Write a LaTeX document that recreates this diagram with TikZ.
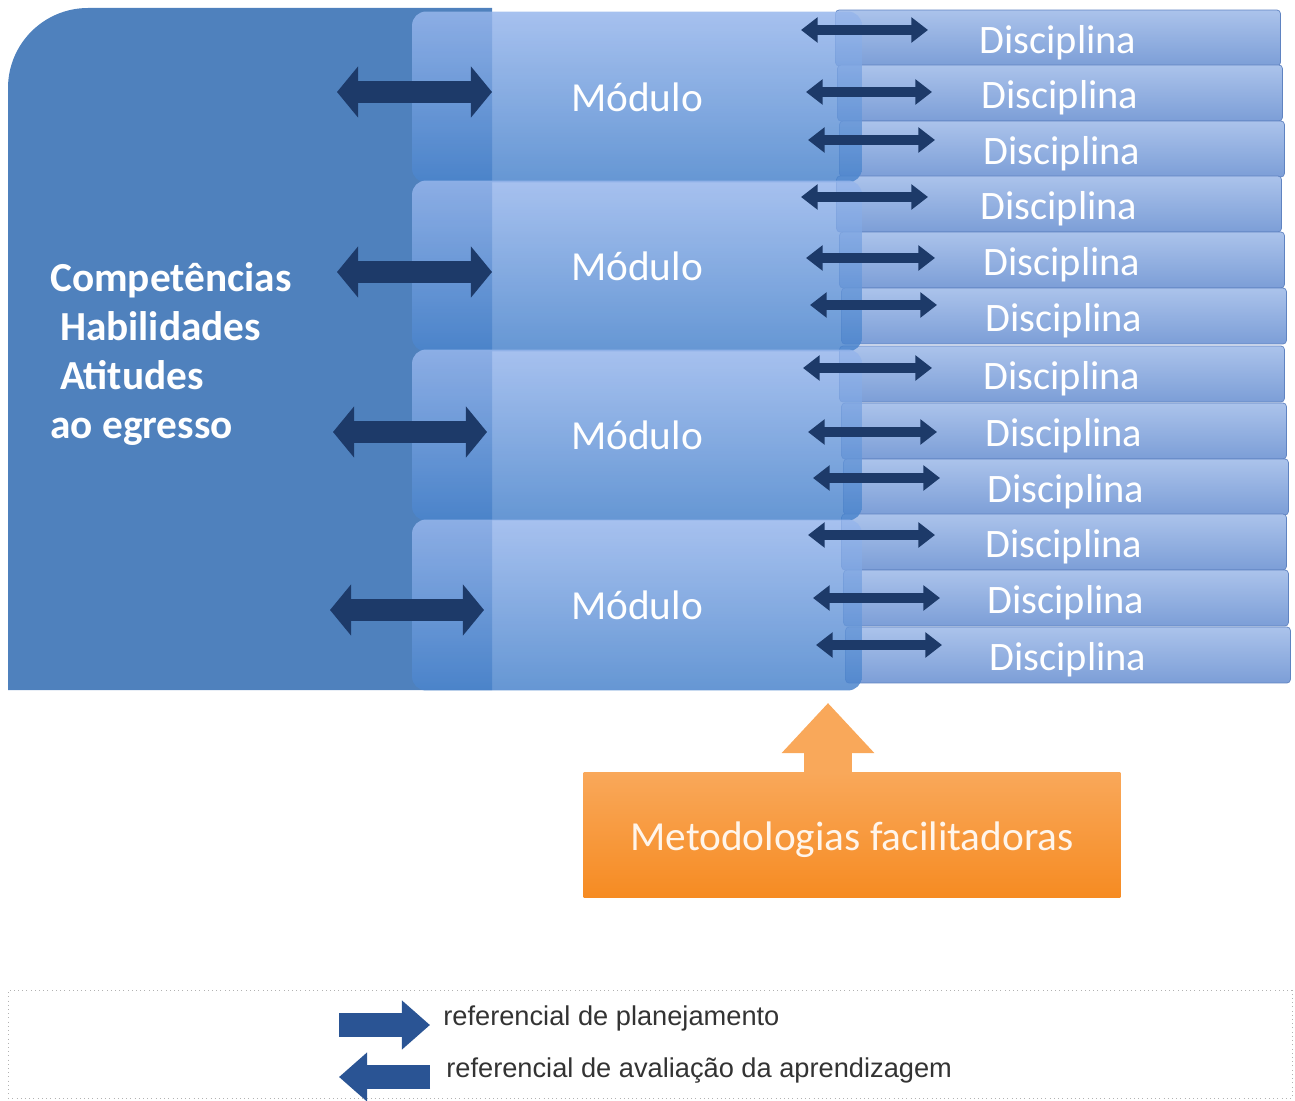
\documentclass[tikz,border=0pt]{standalone}
\usepackage{fontspec}
\setmainfont{Carlito}
\newfontfamily\legfont{Liberation Sans}
\usetikzlibrary{arrows.meta}
\definecolor{fundo}{HTML}{4F81BD}
\definecolor{modtop}{HTML}{97B6EC}
\definecolor{modbot}{HTML}{4A84CC}
\definecolor{disctop}{HTML}{ABC3EB}
\definecolor{discbot}{HTML}{7C9ED7}
\definecolor{discborda}{HTML}{5F83C1}
\definecolor{seta}{HTML}{1D3A69}
\definecolor{laranja}{HTML}{F9A85A}
\definecolor{laranjaesc}{HTML}{F68B22}
\definecolor{azulleg}{HTML}{2A5494}

\begin{document}
\begin{tikzpicture}[x=0.02cm,y=-0.02cm,
  modulo/.style={top color=modtop,bottom color=modbot,fill opacity=0.85,text opacity=1,
    rounded corners=8pt,minimum width=9cm,minimum height=3.42cm,
    text=white,font=\fontsize{23.5}{28}\selectfont},
  disciplina/.style={draw=discborda,top color=disctop,bottom color=discbot,rounded corners=2pt,
    minimum width=8.9cm,minimum height=1.12cm,text=white,font=\fontsize{23}{27}\selectfont,
    text height=18.5pt,text depth=1pt},
  setagrande/.style={seta,line width=12.5pt,
    {Triangle[width=28.5pt,length=12pt]}-{Triangle[width=28.5pt,length=12pt]}},
  setapequena/.style={seta,line width=5.7pt,
    {Triangle[width=14pt,length=9.5pt]}-{Triangle[width=14pt,length=9.5pt]}},
  setalegenda/.style={azulleg,line width=14.2pt,-{Triangle[width=27pt,length=16pt]}}]
  \useasboundingbox (0,0) rectangle (1295,1101);
  % Bloco de competencias
  \fill[fundo] (8,690) -- (8,88) arc(180:270:80) -- (492,8) -- (492,690) -- cycle;
  \node[white,font=\fontsize{23.5}{28}\bfseries\selectfont,align=left,anchor=north west,
    inner sep=0pt] (comp) at (50,262)
    {Competências\\\hspace*{5.5pt}Habilidades\\\hspace*{5.5pt}Atitudes\\ao egresso};
  % Disciplinas
  \foreach \n/\y/\dx in {1/38/0,2/93/2,3/149/4,4/204/1,5/260/4,6/316/6,
                         7/374/4,8/431/6,9/487/8,10/542/6,11/598/8,12/655/10}
    \node[disciplina] (d\n) at (1058+\dx,\y) {Disciplina};
  % Modulos
  \foreach \n/\y in {1/97,2/266,3/435,4/605}
    \node[modulo] (mod\n) at (637,\y) {Módulo};
  % Setas competencias - modulos
  \foreach \n/\xa/\xb/\y in {1/337/492/92,2/337/492/272,3/333/487/432,4/330/484/610}{
    \coordinate (ca\n) at (\xa,\y);
    \coordinate (cb\n) at (\xb,\y);
    \draw[setagrande] (ca\n) -- (cb\n);
  }
  % Setas modulos - disciplinas
  \foreach \n/\xa/\xb/\y in {1/801/928/30,2/806/932/92,3/808/935/140,4/801/928/197,
                             5/806/935/258,6/810/937/305,7/803/932/368,8/808/937/432,
                             9/813/940/478,10/808/935/535,11/813/940/598,12/816/942/645}{
    \coordinate (ma\n) at (\xa,\y);
    \coordinate (mb\n) at (\xb,\y);
    \draw[setapequena] (ma\n) -- (mb\n);
  }
  % Metodologias
  \node[top color=laranja,bottom color=laranjaesc,minimum width=10.74cm,minimum height=2.52cm,
    text=white!92!orange,font=\fontsize{23.5}{28}\selectfont,
    text height=19pt,text depth=1pt] (met) at (852,835)
    {Metodologias facilitadoras};
  \coordinate (topo) at (828,703);
  \draw[laranja,line width=27.3pt,-{Triangle[width=51pt,length=28.5pt]}]
    (topo |- met.north) -- (topo);
  % Legenda
  \node[draw=gray!60,dotted,minimum width=25.68cm,minimum height=2.16cm] (leg) at (650,1044) {};
  \coordinate (la1) at (339,1025);
  \coordinate (lb1) at (430,1025);
  \coordinate (la2) at (430,1077);
  \coordinate (lb2) at (339,1077);
  \draw[setalegenda] (la1) -- (lb1);
  \draw[setalegenda] (la2) -- (lb2);
  \node[anchor=west,inner sep=0pt,text=black!80,font=\legfont\fontsize{15.5}{18}\selectfont]
    (plan) at (443,1018) {referencial de planejamento};
  \node[anchor=west,inner sep=0pt,text=black!80,font=\legfont\fontsize{15.5}{18}\selectfont]
    (aval) at (446,1071) {referencial de avaliação da aprendizagem};
\end{tikzpicture}
\end{document}
